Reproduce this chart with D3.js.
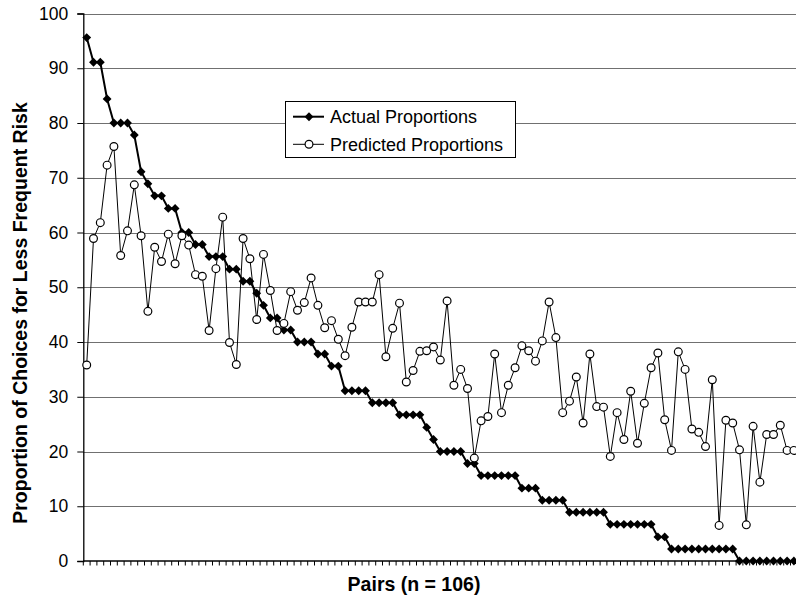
<!DOCTYPE html>
<html>
<head>
<meta charset="utf-8">
<script src="https://cdn.jsdelivr.net/npm/d3@7"></script>
<style>
  html, body { margin: 0; padding: 0; background: #fff; overflow: hidden; }
  svg { display: block; }
  text { font-family: "Liberation Sans", Arial, sans-serif; fill: #000; }
</style>
</head>
<body>
<svg id="chart" width="796" height="596"></svg>
<script>
// ---- data ----
const seriesNames = ["Actual Proportions", "Predicted Proportions"];
const actual = [
  95.6, 91.1, 91.1, 84.4, 80.0, 80.0, 80.0, 77.8, 71.1, 68.9,
  66.7, 66.7, 64.4, 64.4, 60.0, 60.0, 57.8, 57.8, 55.6, 55.6,
  55.6, 53.3, 53.3, 51.1, 51.1, 48.9, 46.7, 44.4, 44.4, 42.2,
  42.2, 40.0, 40.0, 40.0, 37.8, 37.8, 35.6, 35.6, 31.1, 31.1,
  31.1, 31.1, 28.9, 28.9, 28.9, 28.9, 26.7, 26.7, 26.7, 26.7,
  24.4, 22.2, 20.0, 20.0, 20.0, 20.0, 17.8, 17.8, 15.6, 15.6,
  15.6, 15.6, 15.6, 15.6, 13.3, 13.3, 13.3, 11.1, 11.1, 11.1,
  11.1, 8.9, 8.9, 8.9, 8.9, 8.9, 8.9, 6.7, 6.7, 6.7,
  6.7, 6.7, 6.7, 6.7, 4.4, 4.4, 2.2, 2.2, 2.2, 2.2,
  2.2, 2.2, 2.2, 2.2, 2.2, 2.2, 0, 0, 0, 0,
  0, 0, 0, 0, 0, 0
];
const predicted = [
  35.8, 58.9, 61.8, 72.3, 75.7, 55.8, 60.3, 68.7, 59.4, 45.6,
  57.3, 54.7, 59.7, 54.3, 59.4, 57.7, 52.3, 52.0, 42.1, 53.4,
  62.8, 39.9, 35.9, 58.9, 55.2, 44.1, 56.0, 49.4, 42.1, 43.4,
  49.2, 45.8, 47.2, 51.7, 46.7, 42.6, 43.9, 40.5, 37.5, 42.7,
  47.3, 47.3, 47.3, 52.3, 37.3, 42.5, 47.1, 32.7, 34.8, 38.3,
  38.4, 39.1, 36.7, 47.5, 32.1, 35.0, 31.5, 18.8, 25.6, 26.4,
  37.8, 27.1, 32.1, 35.3, 39.3, 38.4, 36.5, 40.2, 47.3, 40.8,
  27.1, 29.2, 33.6, 25.2, 37.8, 28.2, 28.1, 19.1, 27.1, 22.2,
  31.0, 21.5, 28.8, 35.3, 38.0, 25.8, 20.2, 38.2, 35.0, 24.1,
  23.5, 20.9, 33.1, 6.5, 25.7, 25.2, 20.3, 6.6, 24.6, 14.4,
  23.1, 23.1, 24.8, 20.2, 20.2, 20.0
];
const yTicks = [0, 10, 20, 30, 40, 50, 60, 70, 80, 90, 100];
const yTitle = "Proportion of Choices for Less Frequent Risk";
const xTitle = "Pairs (n = 106)";

// ---- layout ----
const svg = d3.select("#chart");
const plotLeft = 83.3, plotTop = 13.5, plotBottom = 561;
const step = 6.8;
const pairs = d3.range(actual.length);
const x = d3.scaleBand().domain(pairs).range([plotLeft, plotLeft + step * pairs.length]);
const y = d3.scaleLinear().domain([0, 100]).range([plotBottom, plotTop]);
const cx = i => x(i) + x.bandwidth() / 2;
const plotRight = plotLeft + step * pairs.length;

// gridlines
svg.append("g").selectAll("line").data(yTicks.filter(d => d > 0)).join("line")
  .attr("x1", plotLeft).attr("x2", plotRight)
  .attr("y1", d => Math.round(y(d)) + 0.5).attr("y2", d => Math.round(y(d)) + 0.5)
  .attr("stroke", "#707070").attr("stroke-width", 1);

// y axis
const yAxis = d3.axisLeft(y).tickValues(yTicks).tickSize(6).tickPadding(9).tickFormat(d3.format("d"));
const gy = svg.append("g").attr("transform", `translate(${plotLeft},0)`).call(yAxis);
gy.select(".domain").attr("stroke", "#000").attr("stroke-width", 1.3);
gy.selectAll(".tick line").attr("stroke", "#000");
gy.selectAll(".tick text").attr("font-size", 17.5).attr("font-family", '"Liberation Sans", Arial, sans-serif').attr("fill", "#000");

// x axis with category-boundary ticks
const gx = svg.append("g").attr("transform", `translate(0,${plotBottom})`);
gx.append("line").attr("x1", plotLeft).attr("x2", plotRight).attr("y1", 0).attr("y2", 0)
  .attr("stroke", "#000").attr("stroke-width", 1.3);
gx.selectAll("line.tk").data(pairs.concat([pairs.length])).join("line").attr("class", "tk")
  .attr("x1", i => plotLeft + i * step).attr("x2", i => plotLeft + i * step)
  .attr("y1", 0).attr("y2", 4.5).attr("stroke", "#000").attr("stroke-width", 1);

// lines
const lineGen = d3.line().x((d, i) => cx(i)).y(d => y(d));
svg.append("path").datum(predicted).attr("d", lineGen)
  .attr("fill", "none").attr("stroke", "#000").attr("stroke-width", 1);
svg.append("path").datum(actual).attr("d", lineGen)
  .attr("fill", "none").attr("stroke", "#000").attr("stroke-width", 2);

// markers
const diamond = d3.symbol().type(d3.symbolDiamond2).size(50);
svg.append("g").selectAll("path").data(actual).join("path")
  .attr("transform", (d, i) => `translate(${cx(i)},${y(d)})`)
  .attr("d", diamond).attr("fill", "#000");
svg.append("g").selectAll("circle").data(predicted).join("circle")
  .attr("cx", (d, i) => cx(i)).attr("cy", d => y(d)).attr("r", 3.9)
  .attr("fill", "#fff").attr("stroke", "#000").attr("stroke-width", 1.2);

// titles
svg.append("text").attr("x", 414).attr("y", 591)
  .attr("text-anchor", "middle").attr("font-size", 19.5).attr("font-weight", "bold").text(xTitle);
svg.append("text").attr("transform", "translate(27,313) rotate(-90)")
  .attr("text-anchor", "middle").attr("font-size", 19.5).attr("font-weight", "bold").text(yTitle);

// legend
const lg = svg.append("g");
lg.append("rect").attr("x", 285.5).attr("y", 101.5).attr("width", 230).attr("height", 56)
  .attr("fill", "#fff").attr("stroke", "#000").attr("stroke-width", 1);
const rows = [
  { name: seriesNames[0], ly: 116.7, ty: 123.3, w: 2, type: "diamond" },
  { name: seriesNames[1], ly: 144.3, ty: 151.3, w: 1, type: "circle" }
];
rows.forEach(r => {
  lg.append("line").attr("x1", 293).attr("x2", 324).attr("y1", r.ly).attr("y2", r.ly)
    .attr("stroke", "#000").attr("stroke-width", r.w);
  if (r.type === "diamond") {
    lg.append("path").attr("transform", `translate(309,${r.ly})`).attr("d", diamond).attr("fill", "#000");
  } else {
    lg.append("circle").attr("cx", 309).attr("cy", r.ly).attr("r", 3.9)
      .attr("fill", "#fff").attr("stroke", "#000").attr("stroke-width", 1.2);
  }
  lg.append("text").attr("x", 330).attr("y", r.ty).attr("font-size", 18).text(r.name);
});
</script>
</body>
</html>
